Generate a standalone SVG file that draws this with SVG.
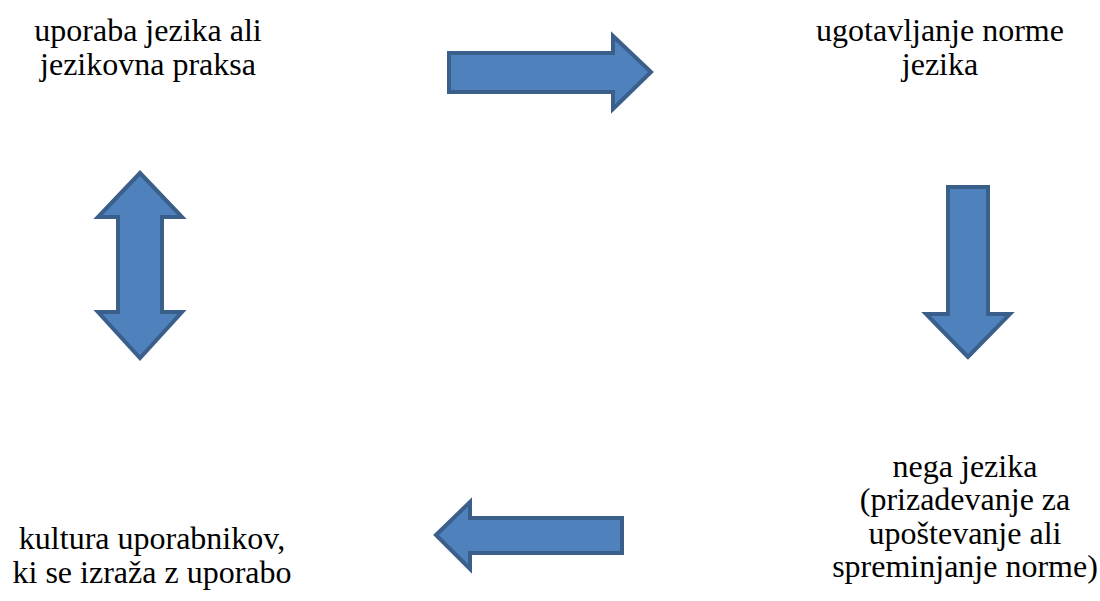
<svg xmlns="http://www.w3.org/2000/svg" width="1100" height="601" viewBox="0 0 1100 601">
<style>
.t{font-family:'Liberation Serif','Times New Roman','DejaVu Serif',serif;font-size:32px;fill:#000;text-anchor:middle}
.a{fill:#4F81BD;stroke:#3A5F8B;stroke-width:4;stroke-linejoin:miter}
</style>
<rect width="1100" height="601" fill="#fff"/>
<g id="n1"><text class="t" x="148" y="41">uporaba jezika ali</text><text class="t" x="148" y="75">jezikovna praksa</text></g>
<g id="n2"><text class="t" x="940" y="41">ugotavljanje norme</text><text class="t" x="940" y="75">jezika</text></g>
<g id="n3"><text class="t" x="965" y="477">nega jezika</text><text class="t" x="965" y="510">(prizadevanje za</text><text class="t" x="965" y="544">upoštevanje ali</text><text class="t" x="965" y="577">spreminjanje norme)</text></g>
<g id="n4"><text class="t" x="152" y="549">kultura uporabnikov,</text><text class="t" x="152" y="583">ki se izraža z uporabo</text></g>
<g id="connectors">
<path class="a" d="M449,53 H613 V36 L651,72 L613,109 V92 H449 Z"/>
<path class="a" d="M968,357 L926,314 H948 V187 H988 V314 H1010 Z"/>
<path class="a" d="M436,535 L470,502 V518 H622 V553 H470 V569 Z"/>
<path class="a" d="M140,173 L182,217 H162 V312 H182 L140,358 L98,312 H118 V217 H98 Z"/>
</g>
</svg>
